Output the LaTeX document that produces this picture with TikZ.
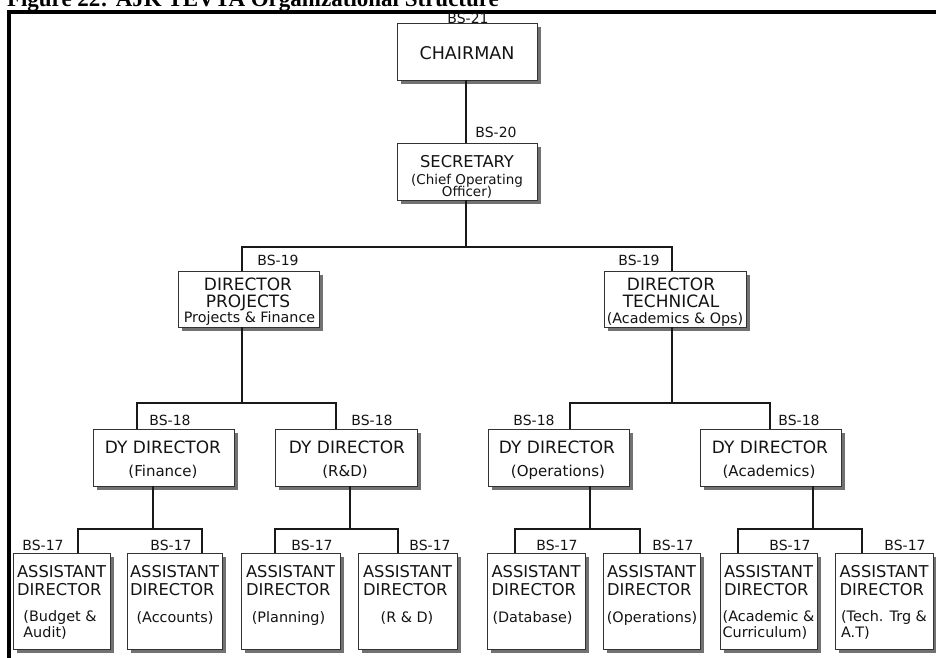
\documentclass[tikz,border=0pt]{standalone}
\usepackage{fontspec}
\setmainfont{DejaVu Sans}
\newfontfamily\headfont{Liberation Serif}
\usetikzlibrary{calc,shadows}
\begin{document}
\begin{tikzpicture}[x=1pt,y=-1pt,
  every node/.style={inner sep=0pt,outer sep=0pt,text=black!92},
  chartbox/.style={draw=black!80,line width=0.8pt,fill=white,
    drop shadow={shadow xshift=3.5pt,shadow yshift=-3.5pt,fill=black!85,opacity=0.65}},
  topbox/.style={chartbox,minimum width=141,minimum height=57},
  staffbox/.style={chartbox,minimum width=97,minimum height=96},
  wire/.style={draw=black!90,line width=1.3pt},
  gradelbl/.style={anchor=base,font=\fontsize{14}{16}\selectfont},
  headtxt/.style={anchor=base,font=\fontsize{17}{19}\selectfont},
  subtxt/.style={anchor=base,font=\fontsize{14.3}{16}\selectfont},
  dysub/.style={anchor=base,font=\fontsize{15}{16}\selectfont},
  stafftitle/.style={align=left,font=\fontsize{16.3}{18}\selectfont},
  staffsub/.style={anchor=base,font=\fontsize{14.4}{16}\selectfont},
  staffsubtwo/.style={align=left,font=\fontsize{14.4}{16}\selectfont}]
\useasboundingbox (0,0) rectangle (936,657);

% frame and caption
\draw[line width=3.5pt] (9,662) -- (9,12) -- (942,12);
\node[anchor=base west,text=black,font=\headfont\bfseries\fontsize{23}{26}\selectfont] (caption) at (7,6) {Figure 22: AJK TEVTA Organizational Structure};

% chairman and secretary
\node[topbox,minimum width=140] (chair) at (467,51.5) {};
\node[headtxt,font=\fontsize{17.5}{19}\selectfont] (chairT) at (467,59.3) {CHAIRMAN};
\node[gradelbl] (g21) at (468,23.2) {BS-21};

\node[topbox,minimum width=140] (sec) at (467,171.5) {};
\node[headtxt,font=\fontsize{16.3}{18}\selectfont] (secT) at (467,167) {SECRETARY};
\node[subtxt,font=\fontsize{13.5}{14}\selectfont] (secS1) at (467,184.5) {(Chief Operating};
\node[subtxt,font=\fontsize{13.5}{14}\selectfont] (secS2) at (467,196.5) {Officer)};
\node[gradelbl] (g20) at (496,137) {BS-20};

% directors
\node[topbox,minimum height=56] (dp) at (248.5,299) {};
\node[headtxt] (dpT1) at (248,290) {DIRECTOR};
\node[headtxt] (dpT2) at (248,307) {PROJECTS};
\node[subtxt] (dpS) at (249.5,322) {Projects \& Finance};
\node[gradelbl] (g19a) at (278,265) {BS-19};

\node[topbox,minimum width=142,minimum height=56] (dt) at (675,299) {};
\node[headtxt] (dtT1) at (671,290) {DIRECTOR};
\node[headtxt] (dtT2) at (671,307) {TECHNICAL};
\node[subtxt] (dtS) at (675,323) {(Academics \& Ops)};
\node[gradelbl] (g19b) at (639,265) {BS-19};

% deputy directors
\node[topbox] (df) at (164,457.5) {};
\node[headtxt] (dfT) at (163,453) {DY DIRECTOR};
\node[dysub] (dfS) at (163,476) {(Finance)};
\node[gradelbl] (g18a) at (170,425) {BS-18};

\node[topbox,minimum width=142] (dr) at (346,457.5) {};
\node[headtxt] (drT) at (347,453) {DY DIRECTOR};
\node[dysub] (drS) at (345,476) {(R\&D)};
\node[gradelbl] (g18b) at (372,425) {BS-18};

\node[topbox] (dop) at (558.5,457.5) {};
\node[headtxt] (dopT) at (557,453) {DY DIRECTOR};
\node[dysub] (dopS) at (558,476) {(Operations)};
\node[gradelbl] (g18c) at (534,425) {BS-18};

\node[topbox] (dac) at (770.5,457.5) {};
\node[headtxt] (dacT) at (770,453) {DY DIRECTOR};
\node[dysub] (dacS) at (769,476) {(Academics)};
\node[gradelbl] (g18d) at (799,425) {BS-18};

% assistant directors
\node[staffbox] (a1) at (61.5,601) {};
\node[stafftitle] (a1T) at (61.5,581) {ASSISTANT\\DIRECTOR};
\node[staffsubtwo] (a1S) at (60,625) {(Budget \&\\Audit)};
\node[gradelbl] (g17a) at (43,550) {BS-17};

\node[staffbox,minimum width=95] (a2) at (174.5,601) {};
\node[stafftitle] (a2T) at (174.5,581) {ASSISTANT\\DIRECTOR};
\node[staffsub] (a2S) at (175,622.5) {(Accounts)};
\node[gradelbl] (g17b) at (171,550) {BS-17};

\node[staffbox,minimum width=99] (a3) at (290.5,601) {};
\node[stafftitle] (a3T) at (290.5,581) {ASSISTANT\\DIRECTOR};
\node[staffsub] (a3S) at (288.5,622.5) {(Planning)};
\node[gradelbl] (g17c) at (312,550) {BS-17};

\node[staffbox,minimum width=99] (a4) at (407.5,601) {};
\node[stafftitle] (a4T) at (407.5,581) {ASSISTANT\\DIRECTOR};
\node[staffsub] (a4S) at (407,622.5) {(R \& D)};
\node[gradelbl] (g17d) at (430,550) {BS-17};

\node[staffbox,minimum width=98] (a5) at (536,601) {};
\node[stafftitle] (a5T) at (536,581) {ASSISTANT\\DIRECTOR};
\node[staffsub] (a5S) at (532.5,622.5) {(Database)};
\node[gradelbl] (g17e) at (557,550) {BS-17};

\node[staffbox] (a6) at (651.5,601) {};
\node[stafftitle] (a6T) at (651.5,581) {ASSISTANT\\DIRECTOR};
\node[staffsub] (a6S) at (652,622.5) {(Operations)};
\node[gradelbl] (g17f) at (673,550) {BS-17};

\node[staffbox] (a7) at (768.5,601) {};
\node[stafftitle] (a7T) at (768.5,581) {ASSISTANT\\DIRECTOR};
\node[staffsubtwo] (a7S) at (768.5,625) {(Academic \&\\Curriculum)};
\node[gradelbl] (g17g) at (790,550) {BS-17};

\node[staffbox,minimum width=98] (a8) at (884,601) {};
\node[stafftitle] (a8T) at (884,581) {ASSISTANT\\DIRECTOR};
\node[staffsubtwo] (a8S) at (884,625) {(Tech. Trg \&\\A.T)};
\node[gradelbl] (g17h) at (905,550) {BS-17};

% junction points
\coordinate (j0) at (466,247);
\coordinate (jL) at (242,247);
\coordinate (jR) at (672,247);
\coordinate (k1) at (242,403);
\coordinate (k1L) at (137,403);
\coordinate (k1R) at (336,403);
\coordinate (k2) at (672,403);
\coordinate (k2L) at (570,403);
\coordinate (k2R) at (770,403);
\coordinate (m1) at (153,529);
\coordinate (m1L) at (78,529);
\coordinate (m1R) at (202,529);
\coordinate (m2) at (350,529);
\coordinate (m2L) at (275,529);
\coordinate (m2R) at (398,529);
\coordinate (m3) at (590,529);
\coordinate (m3L) at (515,529);
\coordinate (m3R) at (640,529);
\coordinate (m4) at (813,529);
\coordinate (m4L) at (738,529);
\coordinate (m4R) at (862,529);

% connectors
\draw[wire] (chair.south -| j0) -- (sec.north -| j0);
\draw[wire] (sec.south -| j0) -- (j0);
\draw[wire] (jL |- dp.north) -- (jL) -- (jR) -- (jR |- dt.north);

\draw[wire] (dp.south -| k1) -- (k1);
\draw[wire] (k1L |- df.north) -- (k1L) -- (k1R) -- (k1R |- dr.north);
\draw[wire] (dt.south -| k2) -- (k2);
\draw[wire] (k2L |- dop.north) -- (k2L) -- (k2R) -- (k2R |- dac.north);

\draw[wire] (df.south -| m1) -- (m1);
\draw[wire] (m1L |- a1.north) -- (m1L) -- (m1R) -- (m1R |- a2.north);
\draw[wire] (dr.south -| m2) -- (m2);
\draw[wire] (m2L |- a3.north) -- (m2L) -- (m2R) -- (m2R |- a4.north);
\draw[wire] (dop.south -| m3) -- (m3);
\draw[wire] (m3L |- a5.north) -- (m3L) -- (m3R) -- (m3R |- a6.north);
\draw[wire] (dac.south -| m4) -- (m4);
\draw[wire] (m4L |- a7.north) -- (m4L) -- (m4R) -- (m4R |- a8.north);
\end{tikzpicture}
\end{document}
